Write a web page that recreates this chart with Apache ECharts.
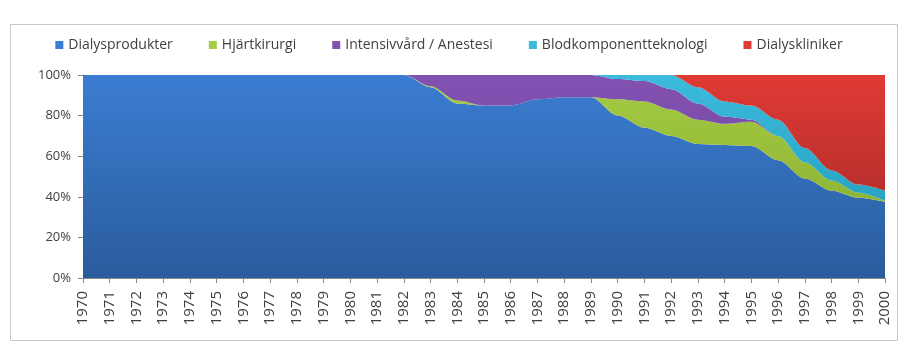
<!DOCTYPE html>
<html>
<head>
<meta charset="utf-8">
<script src="https://cdn.jsdelivr.net/npm/echarts@6/dist/echarts.min.js"></script>
<style>
html,body{margin:0;padding:0;background:#fff;}
#c{width:898px;height:345px;}
</style>
</head>
<body>
<div id="c"></div>
<script>
var years = ['1970','1971','1972','1973','1974','1975','1976','1977','1978','1979','1980','1981','1982','1983','1984','1985','1986','1987','1988','1989','1990','1991','1992','1993','1994','1995','1996','1997','1998','1999','2000'];
var yTicks = [0, 20, 40, 60, 80, 100];
var dialysprodukter = [100,100,100,100,100,100,100,100,100,100,100,100,100,94,86,85,85,88,89,89,80,74,70,66,65.5,65,58,49,43,39.5,37.5];
var hjartkirurgi   = [0,0,0,0,0,0,0,0,0,0,0,0,0,0.5,1.5,0,0,0,0,0,8,13,13,12,10.5,12,12,8,5,2.5,0.5];
var intensivvard   = [0,0,0,0,0,0,0,0,0,0,0,0,0,5.5,12.5,15,15,12,11,11,10,10,10,8,3.5,1,0,0,0,0,0];
var blodkomponent  = [0,0,0,0,0,0,0,0,0,0,0,0,0,0,0,0,0,0,0,0,2,3,7,8,7.5,7,8,7,5,4,5];
var dialyskliniker = [0,0,0,0,0,0,0,0,0,0,0,0,0,0,0,0,0,0,0,0,0,0,0,6,13,15,22,36,47,54,57];

var names = ['Dialysprodukter','Hjärtkirurgi','Intensivvård / Anestesi','Blodkomponentteknologi','Dialyskliniker'];
var seriesData = [dialysprodukter, hjartkirurgi, intensivvard, blodkomponent, dialyskliniker];
var colors = [
  ['#3b7dd2','#2a5c9c'],
  ['#a6cc44','#8fb535'],
  ['#8252b2','#7448a0'],
  ['#3cbbdc','#2aa3c4'],
  ['#e03a34','#b9302d']
];

function grad(c){
  return new echarts.graphic.LinearGradient(0,0,0,1,[{offset:0,color:c[0]},{offset:1,color:c[1]}]);
}

var chart = echarts.init(document.getElementById('c'));
chart.setOption({
  backgroundColor:'#fff',
  animation:false,
  color: colors.map(function(c){return c[0];}),
  graphic:[{
    type:'rect', left:8, top:22, shape:{width:887, height:316},
    style:{fill:'none', stroke:'#c8c8c8', lineWidth:1}, z:-1
  }],
  legend:{
    top:33, left:'center',
    icon:'rect', itemWidth:8, itemHeight:8, itemGap:36,
    textStyle:{fontFamily:'Open Sans', fontSize:14, color:'#404040'},
    data:names
  },
  grid:{left:83, right:13, top:75, bottom:67},
  xAxis:{
    type:'category', data:years, boundaryGap:false,
    axisLine:{lineStyle:{color:'#888'}},
    axisTick:{show:true, length:5, lineStyle:{color:'#888'}, alignWithLabel:true},
    axisLabel:{rotate:90, interval:0, fontFamily:'Open Sans', fontSize:15, color:'#404040', margin:13}
  },
  yAxis:{
    type:'value', min:yTicks[0], max:yTicks[yTicks.length-1], interval:20,
    axisLine:{show:true, lineStyle:{color:'#888'}},
    axisTick:{show:true, length:5, lineStyle:{color:'#888'}},
    splitLine:{show:false},
    axisLabel:{formatter:'{value}%', fontFamily:'Open Sans', fontSize:13, color:'#404040', margin:12}
  },
  series: seriesData.map(function(d,i){
    return {
      name:names[i], type:'line', stack:'total', data:d,
      smooth:0.3, smoothMonotone:'x', showSymbol:false, symbol:'none',
      lineStyle:{width:0}, itemStyle:{color:colors[i][0]},
      areaStyle:{color:grad(colors[i]), opacity:1}
    };
  })
});
</script>
</body>
</html>
